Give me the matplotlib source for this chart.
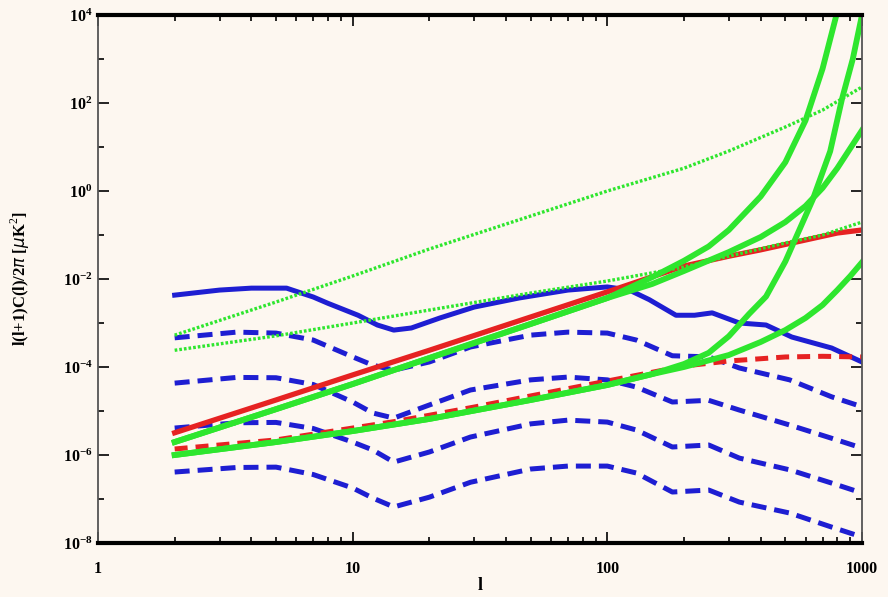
import numpy as np
import matplotlib.pyplot as plt
from matplotlib.ticker import FixedLocator, NullFormatter

plt.rcParams['mathtext.fontset'] = 'custom'
plt.rcParams['mathtext.rm'] = 'Liberation Serif'
plt.rcParams['mathtext.bf'] = 'Liberation Serif:bold'

# multipoles and spectra, l(l+1)C_l/2pi in uK^2
l_blue = [2, 3, 4, 5.5, 7, 8, 10.5, 12.5, 14.5, 17, 22, 30, 45, 70, 100,
          122, 146, 186, 220, 258, 330, 420, 530, 760, 1000]
blue_solid = [4.3e-3, 5.6e-3, 6.2e-3, 6.2e-3, 3.9e-3, 2.8e-3, 1.5e-3, 9.0e-4,
              6.9e-4, 7.7e-4, 1.3e-3, 2.3e-3, 3.7e-3, 5.6e-3, 6.6e-3, 5.6e-3,
              3.4e-3, 1.5e-3, 1.5e-3, 1.7e-3, 1.0e-3, 9.0e-4, 4.8e-4, 2.7e-4,
              1.3e-4]

l_dash = [2, 3.5, 5, 7, 10, 12, 14.5, 20, 29, 50, 70, 100, 130, 180, 250,
          330, 520, 760, 1000]
blue_r1 = [4.6e-4, 6.2e-4, 5.9e-4, 4.1e-4, 1.7e-4, 1.1e-4, 8.5e-5, 1.3e-4,
           2.85e-4, 5.3e-4, 6.2e-4, 5.9e-4, 4.1e-4, 1.8e-4, 1.7e-4, 9.5e-5,
           5.1e-5, 2.1e-5, 1.25e-5]
blue_r2 = [4.3e-5, 5.8e-5, 5.7e-5, 4.0e-5, 1.6e-5, 9.0e-6, 6.9e-6, 1.37e-5,
           3.0e-5, 5.1e-5, 5.9e-5, 5.1e-5, 3.5e-5, 1.6e-5, 1.75e-5, 1.05e-5,
           4.8e-6, 2.4e-6, 1.44e-6]
blue_r3 = [4.1e-6, 5.4e-6, 5.5e-6, 4.0e-6, 1.97e-6, 1.3e-6, 6.9e-7, 1.17e-6,
           2.56e-6, 5.1e-6, 6.2e-6, 5.6e-6, 3.7e-6, 1.52e-6, 1.69e-6, 8.5e-7,
           4.6e-7, 2.3e-7, 1.37e-7]
blue_r4 = [4.1e-7, 5.2e-7, 5.3e-7, 3.6e-7, 1.78e-7, 1.05e-7, 6.6e-8, 1.1e-7,
           2.4e-7, 4.8e-7, 5.6e-7, 5.6e-7, 3.9e-7, 1.44e-7, 1.6e-7, 8.5e-8,
           4.8e-8, 2.3e-8, 1.37e-8]

l_red = [2, 5, 10, 20, 50, 100, 200, 300, 400, 600, 800, 1000]
red_solid = [3.2e-6, 1.78e-5, 6.6e-5, 2.4e-4, 1.37e-3, 5.1e-3, 1.97e-2,
             3.3e-2, 4.6e-2, 7.7e-2, 0.111, 0.13]
l_red_dash = [2, 5, 10, 15, 30, 50, 100, 200, 300, 500, 700, 1000]
red_dash = [1.37e-6, 2.2e-6, 4.1e-6, 5.9e-6, 1.23e-5, 2.2e-5, 4.8e-5,
            1.05e-4, 1.37e-4, 1.69e-4, 1.75e-4, 1.69e-4]

# noise curves: two low-l branches, each splitting at high l
l_up = [2, 5, 10, 20, 50, 100]
green_up = [1.97e-6, 1.1e-5, 4.1e-5, 1.6e-4, 9.5e-4, 3.7e-3]
l_steep1 = [150, 200, 250, 300, 400, 500, 600, 700, 800, 900]
green_steep1 = [1.1e-2, 2.6e-2, 5.5e-2, 0.13, 0.75, 4.5, 40, 600, 1.2e4, 3e5]
l_mid = [150, 200, 300, 400, 500, 600, 700, 800, 1000]
green_mid = [7.7e-3, 1.52e-2, 4.1e-2, 9.0e-2, 0.197, 0.456, 1.17, 3.3, 24]

l_lo = [2, 5, 10, 20, 50, 100, 150]
green_lo = [1.0e-6, 1.97e-6, 3.5e-6, 6.6e-6, 1.78e-5, 3.9e-5, 6.9e-5]
l_steep2 = [200, 250, 300, 360, 420, 500, 640, 750, 835, 920, 1000]
green_steep2 = [1.17e-4, 2.1e-4, 5.0e-4, 1.6e-3, 4.0e-3, 2.5e-2, 0.63, 8,
                125, 1000, 1e4]
l_low = [200, 300, 400, 500, 600, 700, 800, 900, 1000]
green_low = [1.0e-4, 1.87e-4, 3.7e-4, 6.9e-4, 1.3e-3, 2.56e-3, 5.6e-3,
             1.17e-2, 2.4e-2]

# foregrounds
l_fg = [2, 5, 10, 20, 50, 100, 200, 300, 500, 700, 1000]
fg_1 = [5.3e-4, 3.0e-3, 1.17e-2, 4.8e-2, 0.27, 1.0, 3.3, 8.1, 28.5, 69, 231]
fg_2 = [2.4e-4, 5.1e-4, 1.0e-3, 1.97e-3, 4.8e-3, 9.0e-3, 1.87e-2, 3.3e-2,
        6.6e-2, 0.1, 0.197]

BLUE = '#1e1ed2'
RED = '#e62222'
GREEN = '#2ee62e'
BG = '#fdf7f0'

fig = plt.figure(figsize=(8.88, 5.97), dpi=100, facecolor=BG)
ax = fig.add_axes([98 / 888, 1 - 543 / 597, 764 / 888, 528 / 597], facecolor=BG)

dash = dict(color=BLUE, lw=3.6, ls=(0, (3.0, 1.6)), dash_capstyle='butt')
for r in (blue_r1, blue_r2, blue_r3, blue_r4):
    ax.plot(l_dash, r, **dash)
ax.plot(l_blue, blue_solid, color=BLUE, lw=3.6)

ax.plot(l_red, red_solid, color=RED, lw=3.8)
ax.plot(l_red_dash, red_dash, color=RED, lw=3.6, ls=(0, (2.6, 1.6)))

green = dict(color=GREEN, lw=4.2)
ax.plot(l_up + l_steep1, green_up + green_steep1, **green)
ax.plot(l_up + l_mid, green_up + green_mid, **green)
ax.plot(l_lo + l_steep2, green_lo + green_steep2, **green)
ax.plot(l_lo + l_low, green_lo + green_low, **green)

dots = dict(color=GREEN, lw=2.4, ls=(0, (0.8, 0.6)))
ax.plot(l_fg, fg_1, **dots)
ax.plot(l_fg, fg_2, **dots)

ax.set_xscale('log')
ax.set_yscale('log')
ax.set_xlim(1, 1000)
ax.set_ylim(1e-8, 1e4)

ax.set_xticks([1, 10, 100, 1000])
ax.set_xticklabels(['1', '10', '100', '1000'])
ax.xaxis.set_minor_locator(FixedLocator(
    [m * 10 ** d for d in range(3) for m in range(2, 10)]))
ax.xaxis.set_minor_formatter(NullFormatter())

y_major = [10.0 ** p for p in range(-8, 5, 2)]
ax.set_yticks(y_major)
ax.set_yticklabels([r'$\mathbf{10^{%d}}$' % p for p in range(-8, 5, 2)])
ax.yaxis.set_minor_locator(FixedLocator([10.0 ** p for p in range(-7, 4, 2)]))
ax.yaxis.set_minor_formatter(NullFormatter())

ax.tick_params(which='both', direction='in', top=True, right=True,
               color='black', width=1.2)
ax.tick_params(which='major', length=8)
ax.tick_params(which='minor', length=4)
ax.tick_params(axis='x', which='major', pad=13)
ax.tick_params(axis='y', which='major', pad=4)
for lab in ax.get_xticklabels() + ax.get_yticklabels():
    lab.set_fontfamily('Liberation Serif')
    lab.set_fontweight('bold')
    lab.set_fontsize(11.5)

for side in ('top', 'bottom'):
    ax.spines[side].set_linewidth(3.0)
    ax.spines[side].set_color('black')
for side in ('left', 'right'):
    ax.spines[side].set_linewidth(1.3)
    ax.spines[side].set_color('#555555')

fig.text(20 / 888, 1 - 279 / 597, r'l(l+1)C(l)/2$\pi$ [$\mu$K$^2$]',
         rotation=90, ha='center', va='center', fontsize=12,
         fontweight='bold', family='Liberation Serif')
fig.text(480 / 888, 1 - 586 / 597, 'l', ha='center', va='center',
         fontsize=13, fontweight='bold', family='Liberation Serif')

fig.savefig('out.png', dpi=100, facecolor=BG)
